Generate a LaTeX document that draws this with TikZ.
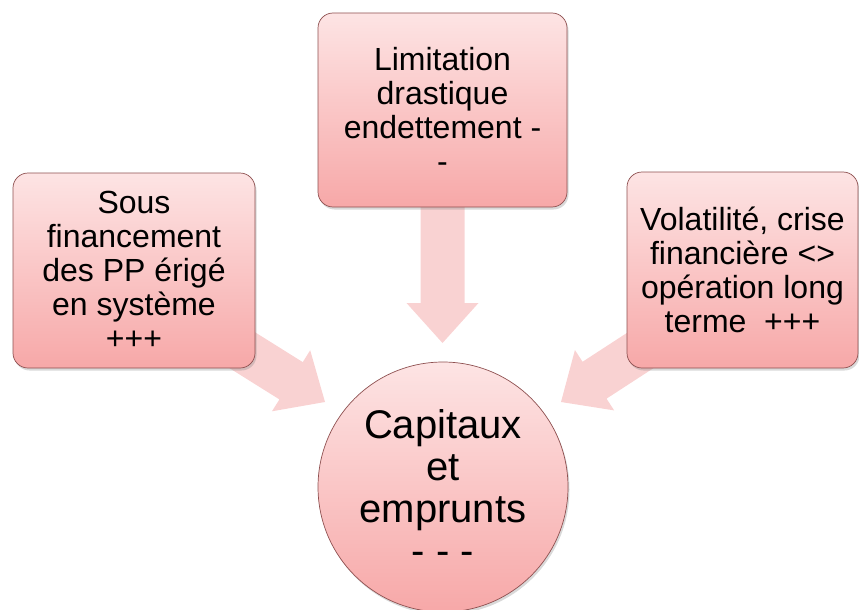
\documentclass[tikz,border=0pt]{standalone}
\usepackage{fontspec}
\setmainfont{Liberation Sans}
\usetikzlibrary{calc,shadows,backgrounds}
\definecolor{boxtop}{HTML}{FDE4E4}
\definecolor{boxbot}{HTML}{F7A8A8}
\definecolor{boxline}{HTML}{8E5050}
\definecolor{arrowfill}{HTML}{F9D2D2}
\newcommand{\flowarrow}[2]{%
  \coordinate (#2b) at ($(#2)!40pt!(#1)$);
  \fill[flow] ($(#1)!22pt!90:(#2)$) -- ($(#2b)!22pt!90:(#2)$) -- ($(#2b)!36pt!90:(#2)$) -- (#2)
    -- ($(#2b)!36pt!-90:(#2)$) -- ($(#2b)!22pt!-90:(#2)$) -- ($(#1)!22pt!-90:(#2)$) -- cycle;}
\begin{document}
\begin{tikzpicture}[x=1pt,y=-1pt,
  card/.style={draw=boxline, line width=0.7pt, rounded corners=15pt,
    top color=boxtop, bottom color=boxbot, align=center, inner sep=0pt,
    font=\fontsize{32}{34}\selectfont,
    drop shadow={shadow xshift=1.5pt, shadow yshift=-2.5pt, opacity=0.3}},
  hub/.style={circle, draw=boxline, line width=0.7pt, top color=boxtop, bottom color=boxbot,
    minimum size=250pt, inner sep=0pt, align=center, font=\fontsize{40}{42}\selectfont,
    drop shadow={shadow xshift=1.5pt, shadow yshift=-2.5pt, opacity=0.3}},
  flow/.style={fill=arrowfill, draw=none}]
\useasboundingbox (0,0) rectangle (859,610);

\node[card, minimum width=242pt, minimum height=195pt] (sous) at (134,270.5)
  {Sous\\financement\\des PP érigé\\en système\\+++};
\node[card, minimum width=249pt, minimum height=194pt] (limit) at (442.5,110)
  {Limitation\\drastique\\endettement -\\-};
\node[card, minimum width=231pt, minimum height=196pt] (vol) at (742.5,270)
  {Volatilité, crise\\financière <>\\opération long\\terme~~+++};
\node[hub] (cap) at (443,487) {Capitaux\\et\\emprunts\\- - -};

\begin{scope}[on background layer]
  \coordinate (ls) at ($(sous.south east)+(-40,-35)$);
  \coordinate (lt) at ($(cap.center)+(-118,-85)$);
  \coordinate (ts) at ($(limit.south)+(0,-10)$);
  \coordinate (tt) at ($(cap.center)+(-0.5,-144)$);
  \coordinate (rs) at ($(vol.south west)+(40,-35)$);
  \coordinate (rt) at ($(cap.center)+(118,-85)$);
  \flowarrow{ls}{lt}
  \flowarrow{ts}{tt}
  \flowarrow{rs}{rt}
\end{scope}
\end{tikzpicture}
\end{document}
